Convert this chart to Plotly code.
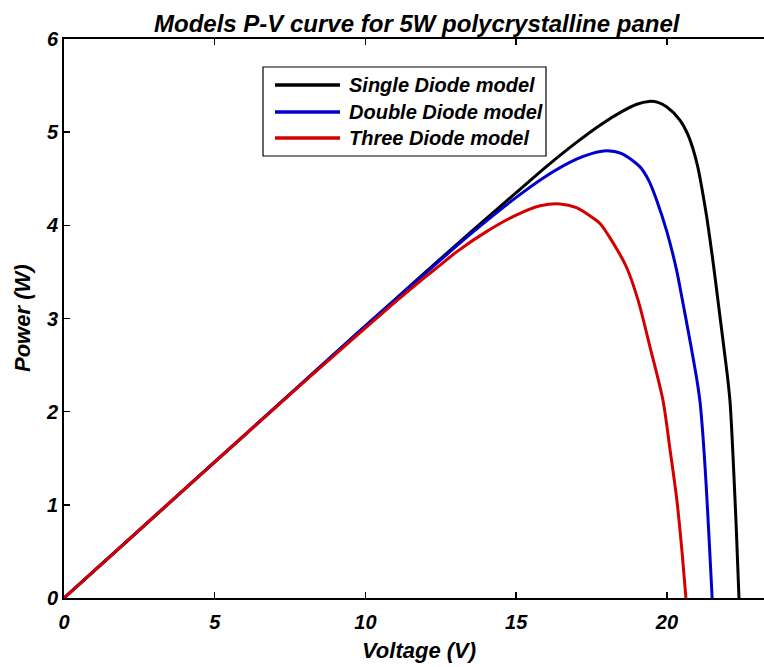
import plotly.graph_objects as go

# Voltage (V) / Power (W) values
single_v = [0, 2, 4, 6, 8, 10, 12, 13.5, 15, 16, 17, 17.78, 18.5, 19, 19.4, 19.7, 20.0,
            20.43, 20.7, 21.0, 21.3, 21.5, 21.69, 21.9, 22.0, 22.09, 22.15, 22.22, 22.3, 22.39]
single_p = [0, 0.584, 1.168, 1.752, 2.336, 2.92, 3.5, 3.93, 4.35, 4.63, 4.89, 5.075, 5.22,
            5.30, 5.33, 5.32, 5.27, 5.13, 4.97, 4.66, 4.13, 3.68, 3.2, 2.66, 2.4, 2.12, 1.8,
            1.33, 0.75, 0]

double_v = [0, 2, 4, 6, 8, 10, 12, 13.5, 15, 16, 17, 17.5, 18, 18.5, 19.1, 19.4, 19.66,
            20.0, 20.32, 20.5, 20.8, 21.0, 21.1, 21.2, 21.3, 21.4, 21.5]
double_p = [0, 0.584, 1.168, 1.752, 2.336, 2.92, 3.49, 3.91, 4.30, 4.53, 4.71, 4.77, 4.80,
            4.77, 4.63, 4.48, 4.27, 3.93, 3.52, 3.22, 2.7, 2.33, 2.1, 1.72, 1.22, 0.63, 0]

three_v = [0, 2, 4, 6, 8, 10, 11, 12, 12.47, 13, 14, 15, 15.8, 16.45, 17, 17.5, 17.78,
           18.2, 18.66, 19.04, 19.45, 19.87, 20.1, 20.33, 20.5, 20.63]
three_p = [0, 0.584, 1.168, 1.75, 2.33, 2.90, 3.18, 3.45, 3.57, 3.71, 3.93, 4.11, 4.21,
           4.23, 4.19, 4.09, 4.02, 3.82, 3.55, 3.2, 2.68, 2.12, 1.6, 1.05, 0.5, 0]

series_names = ["Single Diode model", "Double Diode model", "Three Diode model"]
series_colors = ["#000000", "#0000cc", "#d40000"]

x_ticks = [0, 5, 10, 15, 20]
y_ticks = [0, 1, 2, 3, 4, 5, 6]

FONT = "Liberation Sans, Arial, sans-serif"
W, H = 764, 667
L, R, T, B = 64, 0, 39, 69
PW, PH = W - L - R, H - T - B


def px_x(p):
    return (p - L) / PW


def px_y(p):
    return (H - B - p) / PH


def bfont(size):
    return dict(family=FONT, size=size, color="black", weight="bold", style="italic")


fig = go.Figure()
for (vx, py), name, col in zip([(single_v, single_p), (double_v, double_p), (three_v, three_p)],
                               series_names, series_colors):
    fig.add_trace(go.Scatter(x=vx, y=py, mode="lines", name=name, showlegend=False,
                             line=dict(color=col, width=3, shape="spline", smoothing=0.8)))

axis_common = dict(showgrid=False, zeroline=False, showline=True, linecolor="black",
                   linewidth=2, ticks="inside", ticklen=6, tickwidth=1.5, tickcolor="black",
                   automargin=False, tickfont=bfont(20))

fig.update_xaxes(range=[0, 23.22], tickvals=x_ticks, mirror="ticks", ticklabelstandoff=5,
                 **axis_common)
fig.update_yaxes(range=[0, 6], tickvals=y_ticks, mirror=False, ticklabelstandoff=0,
                 **axis_common)

# title and axis titles
fig.add_annotation(text="Models P-V curve for 5W polycrystalline panel", xref="paper", yref="paper",
                   x=px_x(683), y=px_y(23), xanchor="right", yanchor="middle", showarrow=False,
                   font=bfont(24))
fig.add_annotation(text="Voltage (V)", xref="paper", yref="paper", x=px_x(419), y=px_y(650),
                   xanchor="center", yanchor="middle", showarrow=False, font=bfont(22))
fig.add_annotation(text="Power (W)", xref="paper", yref="paper", x=px_x(22), y=px_y(318),
                   xanchor="center", yanchor="middle", showarrow=False, textangle=-90,
                   font=bfont(22))

# legend box
fig.add_shape(type="rect", xref="paper", yref="paper", x0=px_x(263), x1=px_x(546),
              y0=px_y(156), y1=px_y(67), line=dict(color="black", width=1.2), fillcolor="white",
              layer="above")
row_y = [85, 112, 138]
for name, col, ry in zip(series_names, series_colors, row_y):
    fig.add_shape(type="line", xref="paper", yref="paper", x0=px_x(275), x1=px_x(340),
                  y0=px_y(ry), y1=px_y(ry), line=dict(color=col, width=3.5), layer="above")
    fig.add_annotation(text=name, xref="paper", yref="paper", x=px_x(347), y=px_y(ry),
                       xanchor="left", yanchor="middle", showarrow=False, font=bfont(20))

fig.update_layout(
    width=W, height=H,
    margin=dict(l=L, r=R, t=T, b=B),
    paper_bgcolor="white", plot_bgcolor="white",
    showlegend=False,
)

fig.write_html("out.html", config={"displayModeBar": False, "staticPlot": True})

# remove the browser's default page margin so the figure sits at the window's top-left
with open("out.html", "r", encoding="utf-8") as f:
    html = f.read()
html = html.replace("<head>", "<head><style>html,body{margin:0;padding:0;overflow:hidden;}</style>", 1)
with open("out.html", "w", encoding="utf-8") as f:
    f.write(html)
